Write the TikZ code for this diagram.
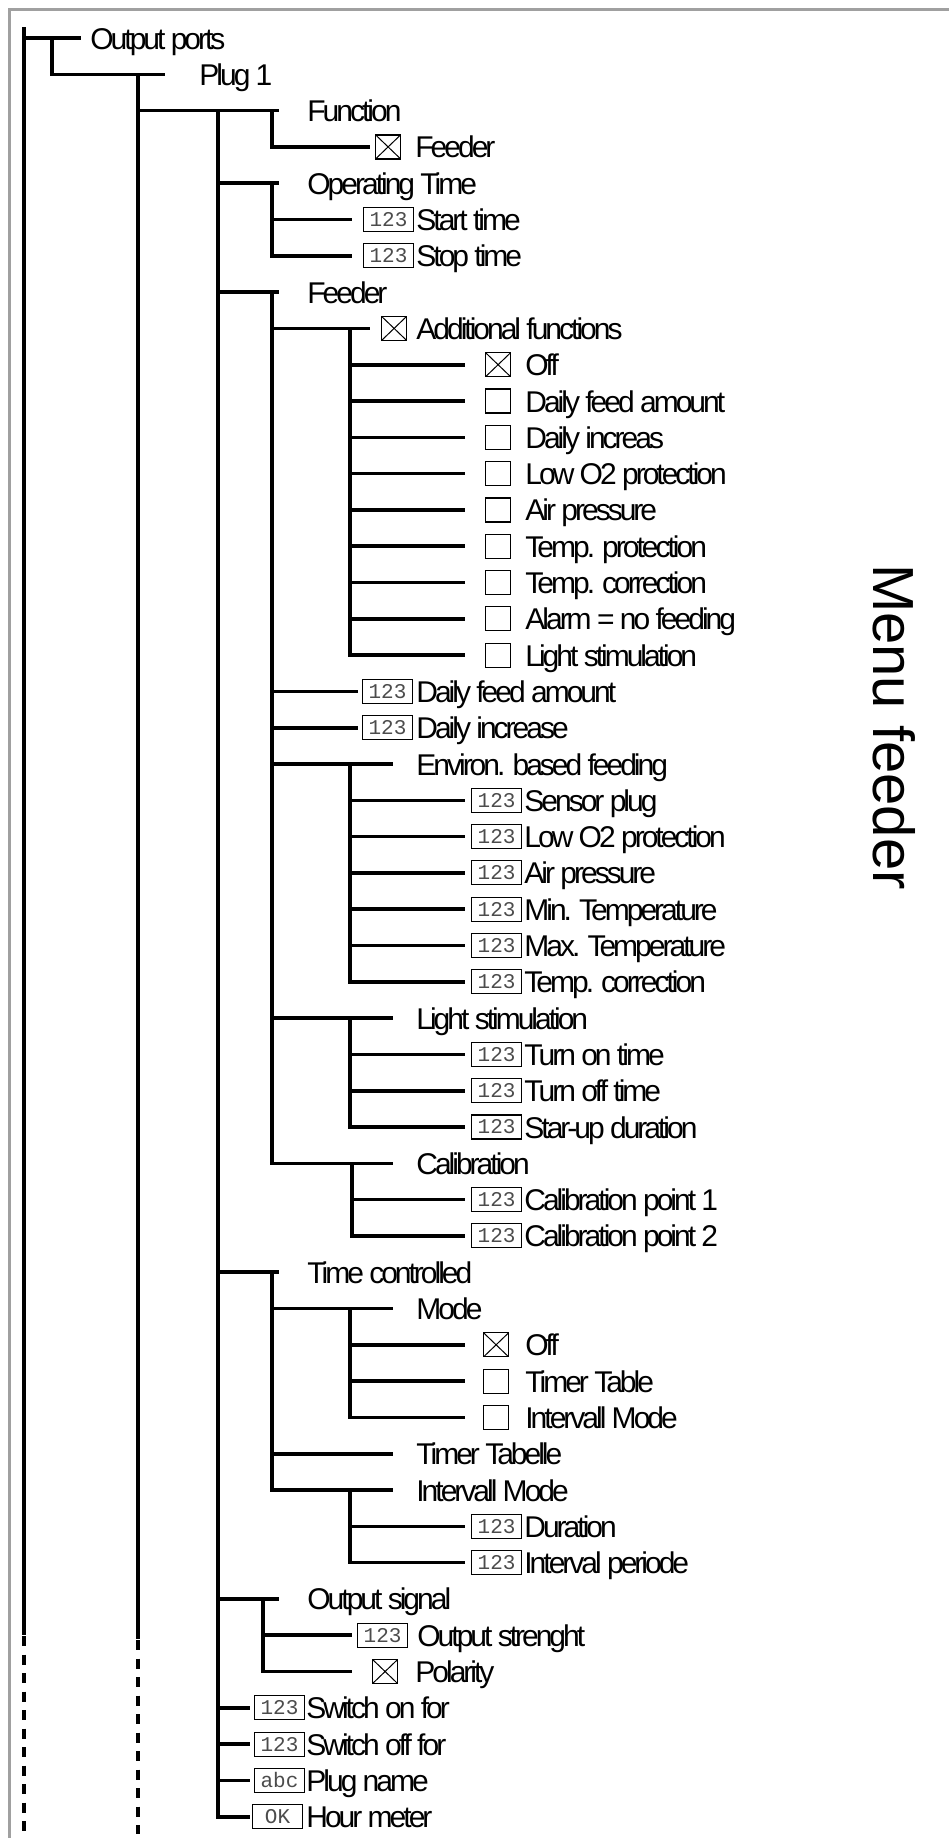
\documentclass[tikz,border=0pt]{standalone}
\usepackage{fontspec}
\setmainfont{Liberation Sans}
\newfontfamily\lbfont[LetterSpace=-10]{Liberation Sans}
\newfontfamily\mnfont{Liberation Sans}
\newfontfamily\mofont{Liberation Mono}
\definecolor{framegray}{RGB}{160,160,160}
\pgfmathdeclarefunction{ry}{1}{\pgfmathparse{38+36.3*(#1-1)}}
\tikzset{
 ln/.style={line width=1.8pt, line cap=rect},
 dl/.style={line width=1.8pt, line cap=butt, dash pattern=on 5pt off 4.25pt},
 lbl/.style={anchor=base west, inner sep=0pt, font=\lbfont\fontsize{15}{18}\selectfont},
 numbox/.style={draw, line width=0.55pt, anchor=west, minimum width=25pt, minimum height=12pt, inner sep=0pt, font=\mofont\fontsize{10.5}{12}\selectfont, text=black!70},
 cbox/.style={draw, line width=0.6pt, anchor=west, minimum width=12.5pt, minimum height=12pt, inner sep=0pt},
 cboxx/.style={cbox, path picture={\draw[line width=0.5pt] (path picture bounding box.south west) -- (path picture bounding box.north east) (path picture bounding box.north west) -- (path picture bounding box.south east);}},
}
\begin{document}
\begin{tikzpicture}[x=0.5pt,y=-0.5pt]
\useasboundingbox (0,0) rectangle (949,1838);
% frame
\draw[color=framegray, line width=1.5pt] (9,1838) -- (9,9) -- (949,9);
% title
\node[rotate=-90, inner sep=0pt, font=\mnfont\fontsize{29}{34}\selectfont] (title) at (894,727) {Menu feeder};

% ---------- level 0 / 1 / 2 ----------
\draw[ln] (24,29) -- (24,1633);
\draw[dl] (24,1636) -- (24,1834);
\draw[ln] (24,{ry(1)}) -- (79,{ry(1)});
\node[lbl] (t1) at (90,{ry(1)+11}) {Output ports};
\draw[ln] (52,{ry(1)}) -- (52,{ry(2)}) -- (163,{ry(2)});
\node[lbl] (t2) at (199,{ry(2)+11}) {Plug 1};
\draw[ln] (138,{ry(2)}) -- (138,1637);
\draw[dl] (138,1640) -- (138,1834);

% ---------- Plug 1 children (V3 at 218) ----------
\draw[ln] (138,{ry(3)}) -- (277,{ry(3)});
\draw[ln] (218,{ry(3)}) -- (218,{ry(50)});
\foreach \r in {5,8,35,44} \draw[ln] (218,{ry(\r)}) -- (277,{ry(\r)});
\foreach \r in {47,48,49,50} \draw[ln] (218,{ry(\r)}) -- (248,{ry(\r)});

\node[lbl] (t3) at (307,{ry(3)+11}) {Function};
\node[lbl] (t5) at (307,{ry(5)+11}) {Operating Time};
\node[lbl] (t8) at (307,{ry(8)+11}) {Feeder};
\node[lbl] (t35) at (307,{ry(35)+11}) {Time controlled};
\node[lbl] (t44) at (307,{ry(44)+11}) {Output signal};

% Function
\draw[ln] (272,{ry(3)}) -- (272,{ry(4)}) -- (368,{ry(4)});
\node[cboxx] (b4) at (375,{ry(4)}) {};
\node[lbl] (t4) at (415,{ry(4)+11}) {Feeder};

% Operating Time
\draw[ln] (272,{ry(5)}) -- (272,{ry(7)}) -- (350,{ry(7)});
\draw[ln] (272,{ry(6)}) -- (350,{ry(6)});
\node[numbox] (b6) at (363,{ry(6)}) {123};
\node[lbl] (t6) at (416,{ry(6)+11}) {Start time};
\node[numbox] (b7) at (363,{ry(7)}) {123};
\node[lbl] (t7) at (416,{ry(7)+11}) {Stop time};

% Feeder
\draw[ln] (272,{ry(8)}) -- (272,{ry(32)}) -- (391,{ry(32)});
\draw[ln] (272,{ry(9)}) -- (368,{ry(9)});
\foreach \r in {19,20} \draw[ln] (272,{ry(\r)}) -- (356,{ry(\r)});
\foreach \r in {21,28} \draw[ln] (272,{ry(\r)}) -- (391,{ry(\r)});

\node[cboxx] (b9) at (381,{ry(9)}) {};
\node[lbl] (t9) at (416,{ry(9)+11}) {Additional functions};
\draw[ln] (350,{ry(9)}) -- (350,{ry(18)}) -- (463,{ry(18)});
\foreach \r in {10,...,17} \draw[ln] (350,{ry(\r)}) -- (463,{ry(\r)});
\node[cboxx] (b10) at (485,{ry(10)}) {};
\node[lbl] (t10) at (525,{ry(10)+11}) {Off};
\node[cbox] (b11) at (485,{ry(11)}) {};
\node[lbl] (t11) at (525,{ry(11)+11}) {Daily feed amount};
\node[cbox] (b12) at (485,{ry(12)}) {};
\node[lbl] (t12) at (525,{ry(12)+11}) {Daily increas};
\node[cbox] (b13) at (485,{ry(13)}) {};
\node[lbl] (t13) at (525,{ry(13)+11}) {Low O2 protection};
\node[cbox] (b14) at (485,{ry(14)}) {};
\node[lbl] (t14) at (525,{ry(14)+11}) {Air pressure};
\node[cbox] (b15) at (485,{ry(15)}) {};
\node[lbl] (t15) at (525,{ry(15)+11}) {Temp. protection};
\node[cbox] (b16) at (485,{ry(16)}) {};
\node[lbl] (t16) at (525,{ry(16)+11}) {Temp. correction};
\node[cbox] (b17) at (485,{ry(17)}) {};
\node[lbl] (t17) at (525,{ry(17)+11}) {Alarm = no feeding};
\node[cbox] (b18) at (485,{ry(18)}) {};
\node[lbl] (t18) at (525,{ry(18)+11}) {Light stimulation};

\node[numbox] (b19) at (362,{ry(19)}) {123};
\node[lbl] (t19) at (416,{ry(19)+11}) {Daily feed amount};
\node[numbox] (b20) at (362,{ry(20)}) {123};
\node[lbl] (t20) at (416,{ry(20)+11}) {Daily increase};

% Environ. based feeding
\node[lbl] (t21) at (416,{ry(21)+11}) {Environ. based feeding};
\draw[ln] (350,{ry(21)}) -- (350,{ry(27)}) -- (463,{ry(27)});
\foreach \r in {22,...,26} \draw[ln] (350,{ry(\r)}) -- (463,{ry(\r)});
\node[numbox] (b22) at (471,{ry(22)}) {123};
\node[lbl] (t22) at (524,{ry(22)+11}) {Sensor plug};
\node[numbox] (b23) at (471,{ry(23)}) {123};
\node[lbl] (t23) at (524,{ry(23)+11}) {Low O2 protection};
\node[numbox] (b24) at (471,{ry(24)}) {123};
\node[lbl] (t24) at (524,{ry(24)+11}) {Air pressure};
\node[numbox] (b25) at (471,{ry(25)}) {123};
\node[lbl] (t25) at (524,{ry(25)+11}) {Min. Temperature};
\node[numbox] (b26) at (471,{ry(26)}) {123};
\node[lbl] (t26) at (524,{ry(26)+11}) {Max. Temperature};
\node[numbox] (b27) at (471,{ry(27)}) {123};
\node[lbl] (t27) at (524,{ry(27)+11}) {Temp. correction};

% Light stimulation
\node[lbl] (t28) at (416,{ry(28)+11}) {Light stimulation};
\draw[ln] (350,{ry(28)}) -- (350,{ry(31)}) -- (463,{ry(31)});
\foreach \r in {29,30} \draw[ln] (350,{ry(\r)}) -- (463,{ry(\r)});
\node[numbox] (b29) at (471,{ry(29)}) {123};
\node[lbl] (t29) at (524,{ry(29)+11}) {Turn on time};
\node[numbox] (b30) at (471,{ry(30)}) {123};
\node[lbl] (t30) at (524,{ry(30)+11}) {Turn off time};
\node[numbox] (b31) at (471,{ry(31)}) {123};
\node[lbl] (t31) at (524,{ry(31)+11}) {Star-up duration};

% Calibration
\node[lbl] (t32) at (416,{ry(32)+11}) {Calibration};
\draw[ln] (352,{ry(32)}) -- (352,{ry(34)}) -- (463,{ry(34)});
\draw[ln] (352,{ry(33)}) -- (463,{ry(33)});
\node[numbox] (b33) at (471,{ry(33)}) {123};
\node[lbl] (t33) at (524,{ry(33)+11}) {Calibration point 1};
\node[numbox] (b34) at (471,{ry(34)}) {123};
\node[lbl] (t34) at (524,{ry(34)+11}) {Calibration point 2};

% Time controlled
\draw[ln] (272,{ry(35)}) -- (272,{ry(41)}) -- (391,{ry(41)});
\foreach \r in {36,40} \draw[ln] (272,{ry(\r)}) -- (391,{ry(\r)});
\node[lbl] (t36) at (416,{ry(36)+11}) {Mode};
\draw[ln] (350,{ry(36)}) -- (350,{ry(39)}) -- (463,{ry(39)});
\foreach \r in {37,38} \draw[ln] (350,{ry(\r)}) -- (463,{ry(\r)});
\node[cboxx] (b37) at (483,{ry(37)}) {};
\node[lbl] (t37) at (525,{ry(37)+11}) {Off};
\node[cbox] (b38) at (483,{ry(38)}) {};
\node[lbl] (t38) at (525,{ry(38)+11}) {Timer Table};
\node[cbox] (b39) at (483,{ry(39)}) {};
\node[lbl] (t39) at (525,{ry(39)+11}) {Intervall Mode};
\node[lbl] (t40) at (416,{ry(40)+11}) {Timer Tabelle};
\node[lbl] (t41) at (416,{ry(41)+11}) {Intervall Mode};
\draw[ln] (350,{ry(41)}) -- (350,{ry(43)}) -- (463,{ry(43)});
\draw[ln] (350,{ry(42)}) -- (463,{ry(42)});
\node[numbox] (b42) at (471,{ry(42)}) {123};
\node[lbl] (t42) at (524,{ry(42)+11}) {Duration};
\node[numbox] (b43) at (471,{ry(43)}) {123};
\node[lbl] (t43) at (524,{ry(43)+11}) {Interval periode};

% Output signal
\draw[ln] (263,{ry(44)}) -- (263,{ry(46)}) -- (350,{ry(46)});
\draw[ln] (263,{ry(45)}) -- (350,{ry(45)});
\node[numbox] (b45) at (357,{ry(45)}) {123};
\node[lbl] (t45) at (417,{ry(45)+11}) {Output strenght};
\node[cboxx] (b46) at (372,{ry(46)}) {};
\node[lbl] (t46) at (415,{ry(46)+11}) {Polarity};

% leaf items of Plug 1
\node[numbox] (b47) at (254,{ry(47)}) {123};
\node[lbl] (t47) at (306,{ry(47)+11}) {Switch on for};
\node[numbox] (b48) at (254,{ry(48)}) {123};
\node[lbl] (t48) at (306,{ry(48)+11}) {Switch off for};
\node[numbox] (b49) at (254,{ry(49)}) {abc};
\node[lbl] (t49) at (306,{ry(49)+11}) {Plug name};
\node[numbox] (b50) at (252,{ry(50)}) {OK};
\node[lbl] (t50) at (306,{ry(50)+11}) {Hour meter};
\end{tikzpicture}
\end{document}
